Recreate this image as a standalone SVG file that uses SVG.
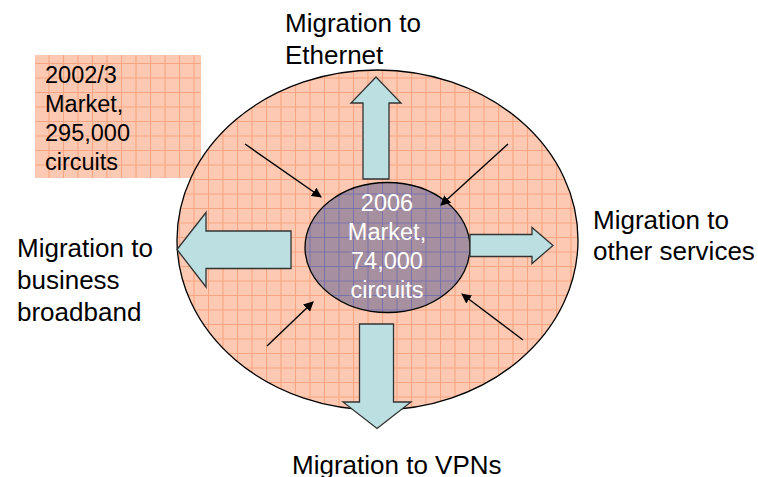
<svg xmlns="http://www.w3.org/2000/svg" width="758" height="477" viewBox="0 0 758 477">
<defs>
<pattern id="peach" patternUnits="userSpaceOnUse" width="29" height="29" x="5" y="5">
<rect width="29" height="29" fill="#fdc9b2"/>
<path d="M0 0.5H29M0 15H29M0.5 0V29M15 0V29" stroke="#f8a681" stroke-width="1.1" fill="none"/>
</pattern>
<pattern id="mauve" patternUnits="userSpaceOnUse" width="29" height="29" x="5" y="5">
<rect width="29" height="29" fill="#a6909f"/>
<path d="M0 0.5H29M0 15H29M0.5 0V29M15 0V29" stroke="#6f6cae" stroke-width="1" fill="none" opacity="0.8"/>
</pattern>
<marker id="ah" viewBox="0 0 10 10" refX="9" refY="5" markerWidth="10" markerHeight="10" markerUnits="userSpaceOnUse" orient="auto">
<path d="M0 0L10 5L0 10z" fill="#000"/>
</marker>
<style>
.lbl{font-family:"Liberation Sans",Arial,sans-serif;font-size:26px;fill:#000}
.box{font-family:"Liberation Sans",Arial,sans-serif;font-size:23.5px;fill:#000}
.inn{font-family:"Liberation Sans",Arial,sans-serif;font-size:23.5px;fill:#fff;text-anchor:middle}
.blk{fill:#bce0e1;stroke:#333;stroke-width:1.3;stroke-linejoin:miter}
.ln{stroke:#000;stroke-width:1.4;fill:none;marker-end:url(#ah)}
</style>
</defs>
<rect width="758" height="477" fill="#fff"/>
<g id="market2002">
<rect x="35" y="55" width="166" height="123" fill="url(#peach)"/>
<text class="box" x="45" y="83">2002/3</text>
<text class="box" x="45" y="112">Market,</text>
<text class="box" x="45" y="141">295,000</text>
<text class="box" x="45" y="170">circuits</text>
</g>
<g id="outer">
<ellipse cx="377.5" cy="240" rx="200.5" ry="170" fill="url(#peach)" stroke="#000" stroke-width="1.3"/>
</g>
<g id="inner">
<ellipse cx="387.5" cy="247.5" rx="82.5" ry="65" fill="url(#mauve)" stroke="#000" stroke-width="1.3"/>
<text class="inn" x="387" y="211">2006</text>
<text class="inn" x="387" y="240">Market,</text>
<text class="inn" x="387" y="269">74,000</text>
<text class="inn" x="387" y="298">circuits</text>
</g>
<g id="arrow-up"><path class="blk" d="M376 77L401 103H389V179H363V103H351Z"/></g>
<g id="arrow-left"><path class="blk" d="M177 249.5L206 212.5V231H291V268.5H206V287Z"/></g>
<g id="arrow-right"><path class="blk" d="M553 245.5L532 227.5V234.5H470V256.5H532V263.5Z"/></g>
<g id="arrow-down"><path class="blk" d="M377 428.5L411 402H393.5V324H359.5V402H343Z"/></g>
<g id="connectors">
<line class="ln" x1="245" y1="144" x2="321" y2="197"/>
<line class="ln" x1="508" y1="144" x2="441" y2="205"/>
<line class="ln" x1="267" y1="346" x2="313" y2="302"/>
<line class="ln" x1="523" y1="340" x2="462" y2="294"/>
</g>
<g id="label-ethernet">
<text class="lbl" x="285" y="32">Migration to</text>
<text class="lbl" x="285" y="64">Ethernet</text>
</g>
<g id="label-broadband">
<text class="lbl" x="17" y="257">Migration to</text>
<text class="lbl" x="17" y="289">business</text>
<text class="lbl" x="17" y="321">broadband</text>
</g>
<g id="label-other">
<text class="lbl" x="593" y="229">Migration to</text>
<text class="lbl" x="593" y="260">other services</text>
</g>
<g id="label-vpn">
<text class="lbl" x="292" y="474">Migration to VPNs</text>
</g>
</svg>
